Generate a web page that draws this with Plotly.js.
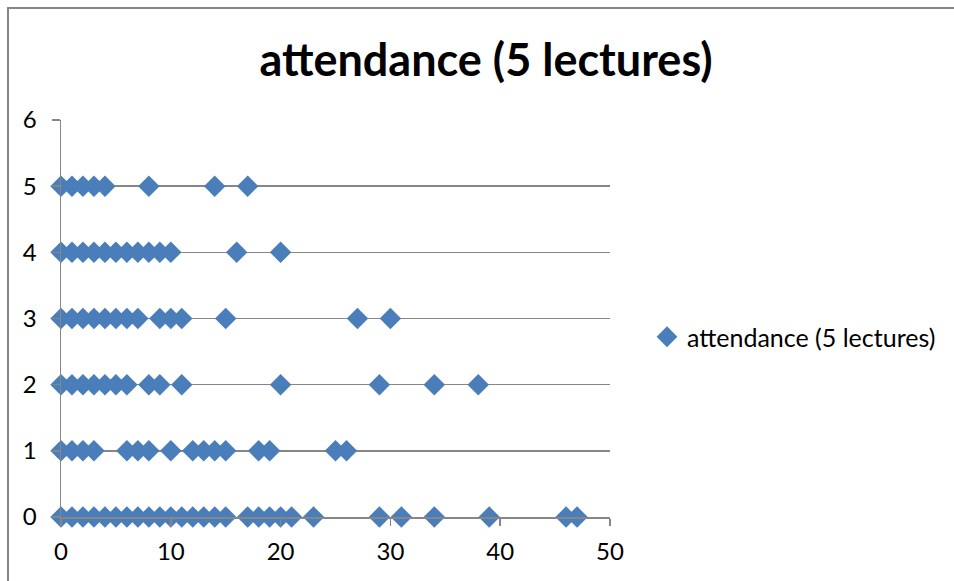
<!DOCTYPE html>
<html>
<head>
<meta charset="utf-8">
<script src="https://cdn.plot.ly/plotly-3.0.1.min.js"></script>
<style>
html,body{margin:0;padding:0;background:#fff;}
#chart{width:954px;height:581px;}
</style>
</head>
<body>
<div id="chart"></div>
<script>
// Data: attendance count (y) vs. value (x)
const seriesName = "attendance (5 lectures)";
const x_att0 = [0,1,2,3,4,5,6,7,8,9,10,11,12,13,14,15,17,18,19,20,21,23,29,31,34,39,46,47];
const x_att1 = [0,1,2,3,6,7,8,10,12,13,14,15,18,19,25,26];
const x_att2 = [0,1,2,3,4,5,6,8,9,11,20,29,34,38];
const x_att3 = [0,1,2,3,4,5,6,7,9,10,11,15,27,30];
const x_att4 = [0,1,2,3,4,5,6,7,8,9,10,16,20];
const x_att5 = [0,1,2,3,4,8,14,17];
const rowLevels = [0,1,2,3,4,5];
const xTicks = [0,10,20,30,40,50];
const yTicks = [0,1,2,3,4,5,6];

const rows = [x_att0, x_att1, x_att2, x_att3, x_att4, x_att5];
const xs = [], ys = [];
rows.forEach((r, i) => r.forEach(v => { xs.push(v); ys.push(rowLevels[i]); }));

const W = 954, H = 581;
const m = {l: 61, r: 344, t: 120, b: 64};
const pw = W - m.l - m.r, ph = H - m.t - m.b;
// outer chart border: left at x=8, top at y=8 (right/bottom beyond canvas)
const bx0 = (8 - m.l) / pw, bx1 = (W + 10 - m.l) / pw;
const by1 = (H - m.b - 8) / ph, by0 = (H - m.b - (H + 10)) / ph;

const FONT = "Lato, 'Open Sans', sans-serif";

Plotly.newPlot("chart", [{
  type: "scatter",
  mode: "markers",
  name: seriesName,
  x: xs, y: ys,
  cliponaxis: false,
  marker: {symbol: "diamond", size: 16.5, color: "#4a7ebb", line: {width: 0}}
}], {
  width: W, height: H,
  margin: m,
  paper_bgcolor: "#fff", plot_bgcolor: "#fff",
  showlegend: true,
  title: {text: "<b>attendance (5 lectures)</b>", font: {family: FONT, size: 45, color: "#000"},
          x: 486 / W, xanchor: "center", y: 1 - 60 / H, yanchor: "middle"},
  xaxis: {range: [0, 50], tickvals: xTicks, ticktext: xTicks.map(String),
          showgrid: false, zeroline: false, showline: true, linecolor: "#868686", linewidth: 1.5,
          ticks: "outside", ticklen: 7, tickcolor: "#868686", tickwidth: 1.5,
          tickfont: {family: FONT, size: 24, color: "#000"}, ticklabelstandoff: 6, fixedrange: true},
  yaxis: {range: [0, 6], tickvals: yTicks, ticktext: yTicks.map(String),
          showgrid: true, gridcolor: "#868686", gridwidth: 1.5, zeroline: false,
          showline: true, linecolor: "#868686", linewidth: 1.5,
          ticks: "outside", ticklen: 8, tickcolor: "#868686", tickwidth: 1.5,
          tickfont: {family: FONT, size: 24, color: "#000"}, ticklabelstandoff: 10, fixedrange: true},
  legend: {x: 647 / W, xref: "container", y: 1 - 337 / H, yref: "container", yanchor: "middle", xanchor: "left",
           font: {family: FONT, size: 25, color: "#000"}, bgcolor: "rgba(0,0,0,0)", itemwidth: 30},
  shapes: [{type: "rect", xref: "paper", yref: "paper", x0: bx0, x1: bx1, y0: by0, y1: by1,
            line: {color: "#868686", width: 2}, layer: "below"}]
}, {staticPlot: true});
</script>
</body>
</html>
